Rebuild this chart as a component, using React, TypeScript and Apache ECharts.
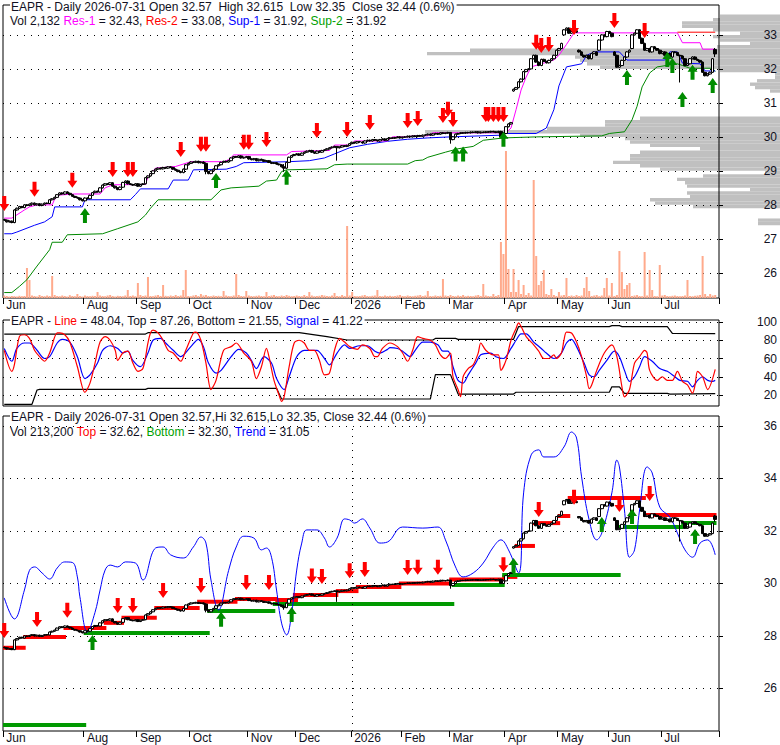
import React, { useEffect, useRef } from 'react';
import * as echarts from 'echarts';

const FONT = "'Liberation Sans', Arial, Helvetica, sans-serif";
const TXT = '#111122';

// ---- x axis (trading days) ----
const monthLabels = ['Jun', 'Aug', 'Sep', 'Oct', 'Nov', 'Dec', '2026', 'Feb', 'Mar', 'Apr', 'May', 'Jun', 'Jul'];
const monthStartIdx = [0, 32, 53, 74, 97, 116, 138, 158, 177, 199, 220, 240, 261];
const numSlots = 284;
const yearStartIdx = 138;

// ---- daily closes ----
const closes = [
  27.55, 27.50, 27.52, 27.48, 27.85, 27.90, 27.95, 27.92, 28.00, 27.98,
  28.02, 28.05, 28.00, 28.03, 27.98, 28.02, 28.05, 28.04, 28.15, 28.18,
  28.22, 28.30, 28.35, 28.32, 28.38, 28.34, 28.30, 28.25, 28.22, 28.20,
  28.15, 28.12, 28.20, 28.18, 28.28, 28.36, 28.40, 28.38, 28.50, 28.58,
  28.62, 28.60, 28.65, 28.55, 28.50, 28.45, 28.52, 28.66, 28.70, 28.62,
  28.60, 28.58, 28.62, 28.55, 28.60, 28.62, 28.80, 28.85, 28.92, 29.00,
  29.05, 29.08, 29.06, 29.10, 29.08, 29.12, 29.10, 29.05, 29.02, 28.98,
  28.95, 29.05, 29.18, 29.22, 29.26, 29.25, 29.28, 29.24, 29.26, 29.22,
  28.98, 28.92, 29.00, 29.05, 29.15, 29.18, 29.25, 29.28, 29.26, 29.30,
  29.38, 29.42, 29.40, 29.44, 29.38, 29.40, 29.42, 29.35, 29.33, 29.36,
  29.30, 29.34, 29.32, 29.28, 29.30, 29.25, 29.22, 29.24, 29.20, 29.18,
  29.12, 29.08, 29.25, 29.40, 29.45, 29.48, 29.50, 29.46, 29.52, 29.55,
  29.58, 29.60, 29.55, 29.52, 29.58, 29.55, 29.60, 29.62, 29.65, 29.68,
  29.70, 29.72, 29.68, 29.70, 29.74, 29.72, 29.75, 29.80, 29.84, 29.82,
  29.86, 29.85, 29.82, 29.88, 29.90, 29.88, 29.92, 29.90, 29.88, 29.92,
  29.94, 29.90, 29.95, 29.97, 29.96, 29.98, 30.00, 29.97, 29.99, 30.00,
  30.02, 30.00, 30.03, 30.01, 30.04, 30.02, 30.05, 30.06, 30.08, 30.05,
  30.09, 30.10, 30.08, 30.12, 30.10, 30.11, 30.13, 29.92, 30.00, 30.08,
  30.10, 30.12, 30.11, 30.13, 30.12, 30.14, 30.13, 30.15, 30.12, 30.14,
  30.13, 30.15, 30.14, 30.16, 30.15, 30.13, 30.16, 30.00, 30.10, 30.30,
  30.38, 30.42, 31.40, 31.45, 31.62, 31.70, 31.92, 31.98, 32.00, 32.30,
  32.40, 32.20, 32.10, 32.28, 32.22, 32.18, 32.25, 32.30, 32.40, 32.55,
  32.60, 32.75, 33.15, 33.20, 33.05, 33.10, 33.12, 33.08, 32.50, 32.40,
  32.35, 32.40, 32.30, 32.45, 32.50, 32.40, 32.85, 33.00, 32.95, 33.10,
  33.05, 32.95, 32.40, 32.05, 32.10, 32.25, 32.35, 32.50, 32.55, 33.00,
  33.05, 33.15, 32.90, 32.75, 32.55, 32.60, 32.50, 32.65, 32.60, 32.55,
  32.45, 32.50, 32.40, 32.45, 32.35, 32.50, 32.48, 32.40, 32.38, 32.30,
  32.10, 32.15, 32.30, 32.35, 32.28, 32.25, 32.20, 31.90, 31.80, 31.85,
  31.90, 32.30, 32.44,
];
// opens that differ from the prior close (gaps)
const gapOpens: Record<number, number> = { 202: 31.35, 222: 33.0, 228: 32.55, 236: 32.55, 242: 32.5, 249: 32.6, 282: 32.57 };
// [index, low, high] for visible long wicks
const wickOverrides = [
  [80, 28.9, 29.25], [111, 29.0, 29.2], [132, 29.3, 29.72], [177, 29.8, 30.13], [268, 31.6, 32.42], [282, 32.35, 32.615],
];
// daily volume (thousands)
const volumes = [
  25, 20, 15, 20, 18, 15, 22, 18, 20, 300,
  180, 25, 20, 15, 30, 20, 18, 25, 20, 220,
  30, 20, 18, 25, 20, 15, 28, 20, 18, 40,
  20, 15, 25, 20, 18, 22, 20, 60, 25, 20,
  18, 25, 30, 20, 15, 22, 20, 18, 25, 80,
  20, 25, 18, 150, 30, 20, 25, 210, 20, 18,
  25, 30, 20, 130, 22, 18, 25, 20, 30, 20,
  25, 80, 280, 20, 18, 25, 30, 20, 40, 25,
  30, 20, 18, 25, 20, 22, 18, 70, 25, 20,
  18, 25, 240, 30, 20, 18, 70, 25, 20, 18,
  22, 25, 20, 18, 60, 20, 25, 30, 20, 18,
  25, 20, 30, 22, 18, 20, 25, 20, 18, 30,
  20, 60, 25, 18, 20, 22, 30, 25, 20, 18,
  25, 50, 20, 18, 30, 20, 720, 25, 60, 20,
  18, 20, 25, 30, 20, 18, 22, 25, 80, 20,
  18, 25, 20, 22, 18, 20, 25, 30, 20, 18,
  25, 20, 18, 22, 25, 30, 20, 25, 70, 20,
  18, 25, 20, 22, 190, 25, 20, 30, 20, 18,
  25, 20, 30, 18, 22, 20, 18, 25, 30, 20,
  140, 25, 20, 18, 40, 20, 30, 560, 440, 1470,
  290, 60, 290, 60, 180, 40, 130, 30, 50, 25,
  1180, 420, 130, 170, 280, 40, 30, 90, 30, 20,
  60, 25, 30, 200, 20, 25, 18, 30, 20, 25,
  100, 210, 70, 20, 25, 30, 18, 25, 100, 200,
  25, 150, 20, 30, 470, 260, 90, 130, 150, 20,
  25, 30, 20, 18, 460, 25, 280, 80, 20, 18,
  330, 25, 30, 20, 18, 22, 25, 20, 18, 20,
  25, 180, 20, 18, 22, 25, 30, 420, 40, 20,
  40, 25, 30,
];

// ---- support / resistance lines [dayIndex, value] ----
const res1 = [
  [0, 27.61], [3, 27.61], [8, 27.85], [10, 27.94], [13, 28.0], [19, 28.0], [20, 28.17], [22, 28.29], [28, 28.32], [38, 28.32],
  [40, 28.5], [43, 28.59], [56, 28.6], [57, 28.82], [60, 29.08], [68, 29.13], [74, 29.27], [87, 29.27], [89, 29.33], [91, 29.47],
  [112, 29.47], [114, 29.57], [129, 29.6], [131, 29.76], [137, 29.76], [139, 29.88], [152, 29.88], [154, 30.0], [160, 30.0],
  [162, 30.03], [168, 30.03], [170, 30.12], [199, 30.12], [201, 30.26], [203, 30.8], [205, 31.38], [207, 31.76], [209, 32.06],
  [218, 32.26], [220, 32.4], [223, 32.72], [226, 33.06], [267, 33.06], [269, 32.77], [276, 32.77], [277, 32.58], [282, 32.58],
];
const res2 = [[267, 33.08], [282, 33.08]];
const sup1 = [
  [0, 27.15], [3, 27.15], [5, 27.2], [12, 27.4], [16, 27.5], [19, 27.65], [20, 27.94], [31, 27.94], [32, 28.15], [50, 28.15],
  [52, 28.3], [54, 28.47], [65, 28.47], [67, 28.73], [73, 28.73], [75, 29.03], [88, 29.05], [92, 29.13], [95, 29.24], [113, 29.27],
  [121, 29.3], [127, 29.38], [131, 29.5], [137, 29.68], [144, 29.78], [152, 29.87], [160, 29.93], [168, 29.97], [177, 30.0],
  [197, 30.05], [198, 30.1], [211, 30.1], [215, 30.26], [218, 30.8], [220, 31.5], [223, 32.06], [229, 32.15], [231, 32.4],
  [234, 32.5], [244, 32.5], [247, 32.26], [262, 32.26], [264, 32.5], [267, 32.5], [269, 32.17], [276, 32.15], [278, 31.94], [282, 31.94],
];
const sup2 = [
  [0, 25.42], [3, 25.42], [6, 25.6], [9, 25.8], [13, 26.2], [18, 26.68], [19, 26.9], [23, 26.9], [25, 27.12], [39, 27.15],
  [45, 27.3], [53, 27.5], [56, 27.7], [58, 27.9], [61, 28.15], [82, 28.15], [86, 28.44], [90, 28.5], [101, 28.55], [104, 28.7],
  [108, 28.73], [110, 28.98], [112, 29.03], [128, 29.06], [131, 29.18], [136, 29.2], [160, 29.2], [163, 29.3], [166, 29.32],
  [168, 29.4], [175, 29.55], [180, 29.65], [186, 29.72], [190, 29.9], [198, 29.97], [211, 30.0], [237, 30.03], [240, 30.1],
  [246, 30.15], [249, 30.5], [251, 30.9], [253, 31.47], [256, 31.88], [259, 32.06], [267, 32.15], [269, 32.1], [272, 32.02],
  [281, 32.02], [282, 31.92],
];

// ---- volume-by-price bins [priceLow, relative volume] (bin = 0.1) ----
const vbpBins = [
  [27.4, 22], [27.5, 22], [27.9, 87], [28.0, 125], [28.1, 130], [28.2, 90], [28.3, 93], [28.4, 30], [28.5, 93], [28.6, 95],
  [28.7, 103], [28.8, 77], [28.9, 15], [29.0, 120], [29.1, 140], [29.2, 167], [29.3, 150], [29.4, 150], [29.5, 140], [29.6, 80],
  [29.7, 130], [29.8, 150], [29.9, 155], [30.0, 200], [30.1, 355], [30.2, 233], [30.3, 175], [30.4, 175], [30.5, 140],
  [31.3, 10], [31.4, 25], [31.5, 30], [31.6, 23], [31.7, 5], [31.8, 5], [31.9, 60], [32.0, 180], [32.1, 193], [32.2, 200],
  [32.3, 205], [32.4, 353], [32.5, 310], [32.6, 63], [32.7, 30], [32.8, 60], [32.9, 67], [33.0, 40], [33.1, 67], [33.2, 98],
  [33.3, 98], [33.4, 67], [33.5, 60],
];

// ---- arrows [dayIndex, price at tip] ----
const topRedArrows = [
  [0, 27.82], [12, 28.24], [27, 28.5], [43, 28.82], [49, 28.82], [51, 28.82], [70, 29.41], [78, 29.56], [80, 29.56], [95, 29.62],
  [97, 29.62], [104, 29.7], [124, 29.97], [136, 30.0], [145, 30.2], [160, 30.26], [164, 30.32], [174, 30.41], [176, 30.59],
  [178, 30.29], [191, 30.44], [192, 30.44], [194, 30.44], [196, 30.44], [198, 30.44], [211, 32.56], [213, 32.47], [216, 32.5],
  [226, 33.0], [242, 33.2], [254, 32.91],
];
const topGreenArrows = [
  [32, 27.91], [84, 28.94], [112, 29.03], [179, 29.72], [182, 29.72], [198, 30.15], [247, 31.97], [263, 32.5], [265, 32.32],
  [269, 31.32], [273, 32.12], [281, 31.73],
];

// ---- oscillator [dayIndex, value] ----
const oscLine = [
  [0, 69], [3, 46], [4, 53], [6, 84], [8, 86], [10, 82], [12, 69], [14, 62], [16, 57], [18, 66], [21, 88], [22, 88], [24, 86],
  [26, 78], [29, 51], [32, 23], [34, 33], [36, 55], [38, 78], [40, 84], [42, 80], [44, 69], [45, 58], [47, 66], [49, 68], [51, 55],
  [53, 46], [55, 49], [57, 77], [58, 88], [59, 91], [61, 88], [63, 80], [65, 69], [67, 66], [70, 57], [72, 69], [75, 88], [76, 89],
  [78, 80], [80, 55], [82, 26], [84, 36], [87, 69], [90, 73], [92, 77], [95, 66], [98, 57], [100, 38], [102, 51], [104, 71],
  [105, 62], [107, 36], [109, 20], [110, 13], [111, 18], [113, 51], [115, 77], [117, 80], [119, 77], [121, 69], [123, 69],
  [125, 58], [127, 42], [129, 44], [131, 69], [133, 82], [135, 78], [137, 73], [140, 70], [142, 75], [145, 71], [147, 62],
  [148, 62], [150, 71], [153, 77], [156, 73], [158, 66], [160, 57], [162, 69], [164, 84], [166, 82], [169, 80], [171, 75],
  [173, 64], [175, 60], [177, 66], [178, 40], [180, 26], [181, 18], [182, 40], [184, 49], [186, 53], [188, 66], [189, 77],
  [191, 69], [194, 64], [196, 64], [197, 47], [199, 58], [201, 80], [203, 93], [204, 99], [205, 95], [207, 84], [210, 75],
  [212, 68], [214, 60], [216, 60], [218, 64], [219, 60], [221, 66], [222, 80], [223, 89], [225, 88], [227, 78], [229, 62],
  [231, 40], [232, 27], [233, 31], [235, 47], [238, 66], [241, 75], [243, 62], [245, 29], [246, 18], [248, 26], [250, 55],
  [252, 62], [254, 69], [255, 66], [256, 47], [259, 36], [261, 40], [263, 36], [265, 36], [267, 46], [269, 35], [271, 31],
  [273, 22], [274, 31], [275, 46], [277, 40], [279, 26], [282, 48],
];
const oscSignal = [
  [0, 71], [3, 57], [5, 71], [8, 77], [10, 77], [13, 69], [16, 60], [18, 62], [21, 77], [23, 81], [26, 78], [29, 62], [32, 38],
  [34, 42], [37, 55], [39, 69], [42, 74], [45, 71], [47, 66], [49, 68], [51, 58], [54, 51], [57, 66], [59, 80], [62, 82], [64, 77],
  [67, 69], [70, 62], [74, 73], [77, 81], [79, 73], [81, 55], [84, 44], [86, 47], [90, 62], [93, 70], [96, 66], [98, 58],
  [100, 49], [103, 62], [106, 55], [108, 38], [111, 26], [113, 40], [116, 62], [119, 69], [121, 69], [124, 69], [127, 60],
  [129, 53], [132, 66], [135, 75], [137, 71], [141, 74], [144, 74], [147, 68], [149, 66], [152, 70], [153, 72], [156, 71],
  [158, 68], [161, 62], [163, 69], [166, 78], [169, 78], [172, 75], [174, 68], [176, 68], [178, 51], [180, 36], [182, 33],
  [184, 42], [187, 55], [189, 64], [193, 66], [195, 62], [198, 60], [201, 71], [203, 80], [205, 87], [207, 87], [210, 78],
  [213, 71], [215, 66], [218, 60], [221, 66], [223, 77], [225, 81], [227, 73], [230, 55], [232, 42], [234, 40], [236, 47],
  [239, 58], [242, 68], [244, 62], [246, 47], [248, 35], [250, 40], [252, 51], [254, 62], [257, 57], [260, 49], [263, 46],
  [266, 40], [268, 36], [271, 35], [273, 29], [275, 36], [277, 40], [279, 36], [281, 35], [282, 36],
];
const oscTop = [
  [0, 86.8], [56, 86.8], [57, 88.3], [117, 88.3], [128, 84], [136, 80.3], [170, 80.3], [171, 82], [179, 82], [180, 81],
  [202, 81], [204, 95], [240, 95], [241, 96], [244, 96], [245, 95], [263, 95], [265, 87.6], [282, 87.26],
];
const oscBottom = [
  [0, 9.8], [11, 9.8], [13, 25.5], [14, 26.2], [56, 26.2], [57, 27.3], [108, 27.3], [110, 15.6], [169, 15.6], [171, 42.3],
  [177, 42.3], [180, 21], [202, 21], [203, 23], [240, 23], [241, 29], [244, 29], [246, 21.8], [263, 21.8], [264, 20.9], [282, 21.55],
];

// ---- lower panel ----
const trendLine = [
  [0, 29.45], [4, 28.65], [8, 29.75], [10, 30.5], [12, 30.63], [15, 30.4], [18, 30.17], [21, 30.59], [24, 30.82], [27, 30.8],
  [29, 30.25], [30, 29.49], [33, 28.15], [36, 28.9], [38, 29.75], [40, 30.51], [42, 30.7], [45, 30.63], [48, 30.82], [52, 30.78],
  [55, 30.13], [60, 31.35], [63, 31.39], [66, 31.09], [71, 30.97], [75, 31.39], [78, 31.77], [80, 31.54], [82, 30.13],
  [85, 28.99], [89, 30.5], [92, 31.39], [95, 31.8], [99, 31.73], [102, 31.28], [104, 31.35], [106, 31.0], [108, 29.75],
  [110, 28.49], [112, 28.04], [114, 28.88], [116, 30.51], [118, 31.54], [120, 32.04], [124, 32.04], [127, 31.73], [129, 31.39],
  [132, 31.73], [135, 32.46], [137, 32.42], [139, 32.3], [142, 32.46], [145, 32.11], [149, 31.54], [152, 31.58], [158, 32.15],
  [166, 32.11], [172, 32.15], [175, 31.66], [179, 30.63], [182, 30.25], [186, 30.4], [190, 30.78], [194, 31.39], [197, 31.66],
  [200, 31.28], [204, 30.4], [206, 33.45], [209, 34.9], [212, 35.09], [214, 34.82], [218, 34.82], [222, 35.2], [225, 35.77],
  [227, 35.54], [229, 34.06], [232, 32.42], [235, 31.66], [237, 31.92], [241, 33.45], [243, 34.7], [244, 34.44], [246, 32.8],
  [248, 31.0], [250, 31.28], [252, 32.8], [255, 34.44], [257, 34.21], [260, 32.91], [264, 32.53], [267, 31.92], [270, 31.28],
  [273, 31.0], [276, 31.54], [279, 31.66], [282, 31.09],
];
// [startIndex, endIndex, level]
const topSegs = [
  [0, 8, 27.55], [8, 24, 27.96], [24, 40, 28.3], [40, 47, 28.5], [47, 60, 28.69], [60, 77, 29.07], [77, 92, 29.3],
  [92, 108, 29.41], [108, 116, 29.37], [115, 132, 29.56], [132, 140, 29.71], [140, 157, 29.87], [157, 177, 30.0],
  [177, 198, 30.15], [198, 203, 30.25], [203, 210, 31.43], [210, 220, 32.3], [220, 224, 32.57], [224, 254, 33.26], [254, 282, 32.61],
];
const bottomSegs = [
  [0, 32, 24.61], [32, 81, 28.11], [81, 107, 28.95], [107, 178, 29.22], [178, 198, 29.94], [198, 244, 30.32],
  [244, 269, 32.15], [269, 282, 32.3],
];
const botRedArrows = [
  [0, 27.92], [13, 28.34], [25, 28.69], [45, 28.88], [51, 28.88], [63, 29.45], [78, 29.64], [96, 29.75], [105, 29.75],
  [122, 30.0], [126, 29.98], [137, 30.2], [143, 30.25], [160, 30.32], [164, 30.33], [172, 30.33], [198, 30.43], [212, 32.53],
  [226, 33.0], [244, 32.72], [256, 33.14],
];
const botGreenArrows = [[35, 28.04], [86, 28.92], [114, 29.1], [202, 30.97], [237, 32.53], [249, 32.84], [274, 32.08]];

// ---- axis ticks ----
const priceTicks = [26, 27, 28, 29, 30, 31, 32, 33];
const oscTicks = [20, 40, 60, 80, 100];
const lowerTicks = [26, 28, 30, 32, 34, 36];

const DOWN = 'path://M3,0L7,0L7,8L10,8L5,15L0,8L3,8Z';
const UP = 'path://M5,0L10,7L7,7L7,15L3,15L3,7L0,7Z';

function buildCandles() {
  const out: number[][] = [];
  for (let i = 0; i < closes.length; i++) {
    const c = closes[i];
    const o = gapOpens[i] !== undefined ? gapOpens[i] : i === 0 ? c + 0.02 : closes[i - 1];
    let lo = Math.min(o, c) - 0.02;
    let hi = Math.max(o, c) + 0.02;
    const w = wickOverrides.find((x) => x[0] === i);
    if (w) {
      lo = w[1];
      hi = w[2];
    }
    out.push([o, c, lo, hi]);
  }
  return out;
}

export default function App() {
  const ref = useRef<HTMLDivElement>(null);
  useEffect(() => {
    const chart = echarts.init(ref.current!, null, { renderer: 'svg' });
    const cats = Array.from({ length: numSlots }, (_, i) => String(i));
    const monthSet = new Set(monthStartIdx);
    const candles = buildCandles();
    const txt = { fontSize: 12, fontFamily: FONT };
    const rich = {
      t: { ...txt, fill: TXT, color: TXT },
      m: { ...txt, fill: '#ff00ff', color: '#ff00ff' },
      r: { ...txt, fill: '#ff0000', color: '#ff0000' },
      b: { ...txt, fill: '#0000ff', color: '#0000ff' },
      g: { ...txt, fill: '#00a000', color: '#00a000' },
    };
    const xCat = (gridIndex: number, labels: boolean) => ({
      type: 'category',
      gridIndex,
      data: cats,
      boundaryGap: true,
      axisLine: { show: false },
      axisTick: {
        show: labels,
        interval: (i: number) => monthSet.has(i),
        length: 6,
        lineStyle: { color: '#000' },
      },
      axisLabel: {
        show: labels,
        interval: (i: number) => monthSet.has(i),
        formatter: (_v: string, i: number) => monthLabels[monthStartIdx.indexOf(i)] || '',
        align: 'left',
        margin: 1,
        padding: [0, 0, 0, 2],
        fontSize: 12,
        fontFamily: FONT,
        color: TXT,
      },
      splitLine: { show: false },
    });
    const yVal = (gridIndex: number, min: number, max: number, ticks: number[]) => ({
      type: 'value',
      gridIndex,
      position: 'right',
      min,
      max,
      axisLine: { show: false },
      axisTick: { show: true, length: 4, customValues: ticks, lineStyle: { color: '#000' } },
      axisLabel: { customValues: ticks, align: 'right', margin: 58, fontSize: 12, fontFamily: FONT, color: TXT },
      splitLine: { show: true, lineStyle: { color: '#000', type: [1, 6], width: 1 } },
    });
    const lineS = (x: number, y: number, data: number[][], color: string, width = 1, smooth: number | boolean = false) => ({
      type: 'line',
      xAxisIndex: x,
      yAxisIndex: y,
      data,
      symbol: 'none',
      smooth,
      lineStyle: { color, width },
      z: 3,
    });
    const arrows = (x: number, y: number, data: number[][], down: boolean) => ({
      type: 'scatter',
      xAxisIndex: x,
      yAxisIndex: y,
      data,
      symbol: down ? DOWN : UP,
      symbolSize: [10, 15],
      symbolOffset: [0, down ? -7.5 : 7.5],
      itemStyle: { color: down ? '#ff0000' : '#008c00', opacity: 1 },
      z: 5,
    });
    const candleS = (x: number, y: number) => ({
      type: 'candlestick',
      xAxisIndex: x,
      yAxisIndex: y,
      data: candles,
      barWidth: 3,
      itemStyle: { color: '#ffffff', color0: '#000000', borderColor: '#000000', borderColor0: '#000000', borderWidth: 1 },
      z: 4,
      markLine: {
        silent: true,
        symbol: 'none',
        label: { show: false },
        lineStyle: { color: '#000', type: [1, 6], width: 1 },
        data: [{ xAxis: yearStartIdx }],
      },
    });
    const segS = (data: number[][], color: string) => ({
      type: 'custom',
      xAxisIndex: 2,
      yAxisIndex: 3,
      data,
      encode: { x: [0, 1], y: 2 },
      z: 3,
      renderItem: (_p: any, api: any) => {
        const half = api.size([1, 0])[0] / 2;
        const a = api.coord([api.value(0), api.value(2)]);
        const b = api.coord([api.value(1), api.value(2)]);
        return {
          type: 'line',
          shape: { x1: a[0] - half, y1: a[1], x2: b[0] + half, y2: b[1] },
          style: { stroke: color, lineWidth: 4 },
        };
      },
    });

    const option: any = {
      animation: false,
      backgroundColor: '#fff',
      textStyle: { fontFamily: FONT },
      grid: [
        { left: 3, top: 5, width: 716, height: 293, show: true, borderColor: '#000', borderWidth: 1, backgroundColor: 'transparent' },
        { left: 3, top: 320, width: 716, height: 86, show: true, borderColor: '#000', borderWidth: 1, backgroundColor: 'transparent' },
        { left: 3, top: 416, width: 716, height: 315, show: true, borderColor: '#000', borderWidth: 1, backgroundColor: 'transparent' },
        { left: 420, top: 5, width: 360, height: 293, show: false },
      ],
      xAxis: [
        xCat(0, true),
        xCat(1, false),
        xCat(2, true),
        { type: 'value', gridIndex: 3, inverse: true, min: 0, max: 360, show: false },
      ],
      yAxis: [
        yVal(0, 25.26, 33.88, priceTicks),
        { type: 'value', gridIndex: 0, min: 0, max: 2930, show: false },
        yVal(1, 7.95, 102.19, oscTicks),
        yVal(2, 24.38, 36.38, lowerTicks),
        { type: 'value', gridIndex: 3, min: 25.26, max: 33.88, show: false },
      ],
      series: [
        {
          type: 'custom',
          xAxisIndex: 3,
          yAxisIndex: 4,
          z: -1,
          data: vbpBins.map(([lo, w]) => [lo, +(lo + 0.1).toFixed(2), w]),
          encode: { x: 2, y: [0, 1] },
          renderItem: (_p: any, api: any) => {
            const a = api.coord([0, api.value(0)]);
            const b = api.coord([api.value(2), api.value(1)]);
            return {
              type: 'rect',
              shape: { x: Math.min(a[0], b[0]), y: Math.min(a[1], b[1]), width: Math.abs(a[0] - b[0]), height: Math.abs(a[1] - b[1]) },
              style: { fill: '#c0c0c0' },
            };
          },
        },
        {
          type: 'bar',
          xAxisIndex: 0,
          yAxisIndex: 1,
          data: volumes,
          barWidth: 2,
          itemStyle: { color: '#ffaa8c' },
          z: 1,
        },
        lineS(0, 0, sup2, '#008800'),
        lineS(0, 0, sup1, '#0000ff'),
        lineS(0, 0, res1, '#ff00ff'),
        lineS(0, 0, res2, '#ff0000'),
        candleS(0, 0),
        arrows(0, 0, topRedArrows, true),
        arrows(0, 0, topGreenArrows, false),
        lineS(1, 2, oscTop, '#000000', 1.2),
        lineS(1, 2, oscBottom, '#000000', 1.2),
        lineS(1, 2, oscSignal, '#0000ff', 1.2, 0.3),
        lineS(1, 2, oscLine, '#ff0000', 1.2, 0.3),
        lineS(2, 3, trendLine, '#0000ff', 1, 0.4),
        segS(topSegs, '#ff0000'),
        segS(bottomSegs, '#009900'),
        candleS(2, 3),
        arrows(2, 3, botRedArrows, true),
        arrows(2, 3, botGreenArrows, false),
      ],
      graphic: [
        {
          type: 'text',
          x: 10,
          y: 7,
          z: 100,
          style: {
            text: 'EAPR - Daily 2026-07-31 Open 32.57  High 32.615  Low 32.35  Close 32.44 (0.6%)',
            fill: TXT,
            fontSize: 12,
            fontFamily: FONT,
            verticalAlign: 'middle',
            backgroundColor: '#fff',
            padding: [0, 2, 0, 1],
          },
        },
        {
          type: 'text',
          x: 10,
          y: 21,
          z: 100,
          style: {
            text: '{t|Vol 2,132 }{m|Res-1}{t| = 32.43, }{r|Res-2}{t| = 33.08, }{b|Sup-1}{t| = 31.92, }{g|Sup-2}{t| = 31.92}',
            rich,
            fontSize: 12,
            fontFamily: FONT,
            verticalAlign: 'middle',
          },
        },
        {
          type: 'text',
          x: 10,
          y: 321,
          z: 100,
          style: {
            text: '{t|EAPR - }{r|Line}{t| = 48.04, Top = 87.26, Bottom = 21.55, }{b|Signal}{t| = 41.22}',
            rich,
            fontSize: 12,
            fontFamily: FONT,
            verticalAlign: 'middle',
            backgroundColor: '#fff',
            padding: [0, 2, 0, 1],
          },
        },
        {
          type: 'text',
          x: 10,
          y: 417,
          z: 100,
          style: {
            text: 'EAPR - Daily 2026-07-31 Open 32.57,Hi 32.615,Lo 32.35, Close 32.44 (0.6%)',
            fill: TXT,
            fontSize: 12,
            fontFamily: FONT,
            verticalAlign: 'middle',
            backgroundColor: '#fff',
            padding: [0, 2, 0, 1],
          },
        },
        {
          type: 'text',
          x: 10,
          y: 432,
          z: 100,
          style: {
            text: '{t|Vol 213,200 }{r|Top}{t| = 32.62, }{g|Bottom}{t| = 32.30, }{b|Trend}{t| = 31.05}',
            rich,
            fontSize: 12,
            fontFamily: FONT,
            verticalAlign: 'middle',
          },
        },
      ],
    };
    chart.setOption(option);
    return () => chart.dispose();
  }, []);
  return <div ref={ref} style={{ position: 'absolute', left: 0, top: 0, width: 780, height: 745, background: '#fff' }} />;
}
